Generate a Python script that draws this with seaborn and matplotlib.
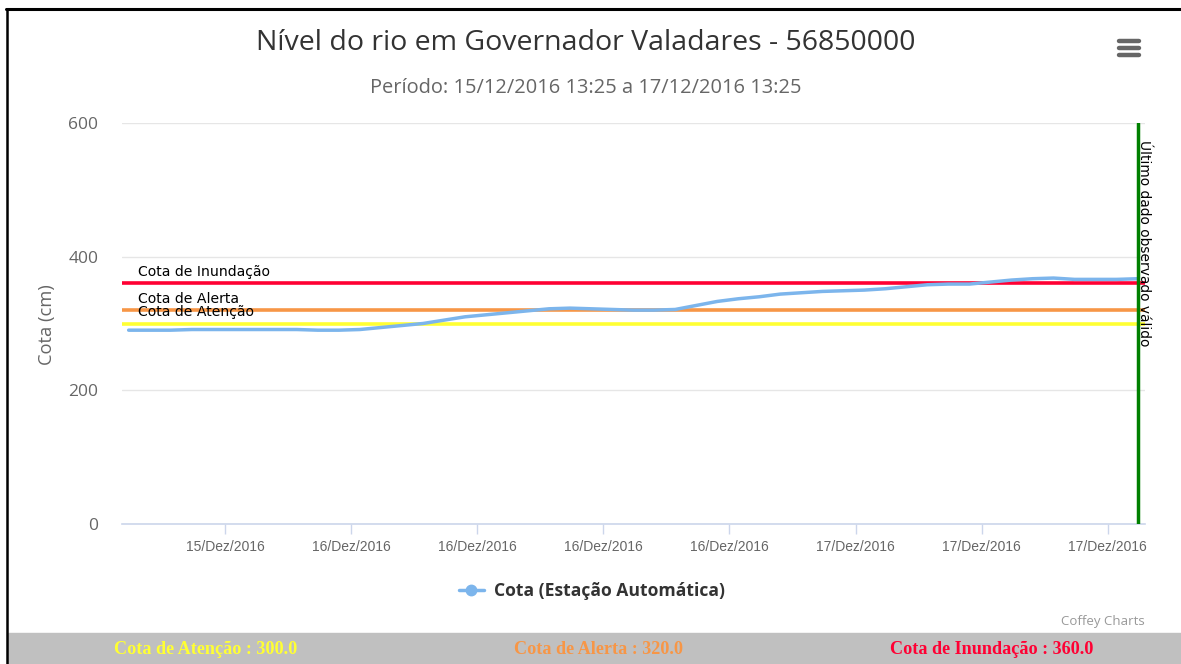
# %%
import matplotlib

matplotlib.use("Agg")
import matplotlib.dates as mdates
import matplotlib.pyplot as plt
import pandas as pd
import seaborn as sns
from matplotlib.lines import Line2D
from matplotlib.patches import Rectangle


# %% hourly river level, starting 15/12/2016 13:25
start = "2016-12-15 13:25"
cota_cm = [
    290, 290, 290, 291, 291, 291, 291, 291, 291, 290, 290, 291,
    294, 297, 300, 305, 310, 313, 316, 319, 322, 323, 322, 321,
    320, 320, 321, 327, 333, 337, 340, 344, 346, 348, 349, 350,
    352, 355, 358, 359, 359, 362, 365, 367, 368, 366, 366, 366,
    367,
]
limiar_nomes = ["Cota de Atenção", "Cota de Alerta", "Cota de Inundação"]
limiar_valores = [300.0, 320.0, 360.0]
limiar_cores = ["#ffff33", "#f79646", "#ff0033"]
y_ticks = [0, 200, 400, 600]
meses = {12: "Dez"}

df = pd.DataFrame(
    {"hora": pd.date_range(start, periods=len(cota_cm), freq="h"), "cota": cota_cm}
)

# %%
W, H = 1181, 664


def fx(x):
    return x / W


def fy(y):
    return 1 - y / H


sns.set_theme(style="white")
plt.rcParams["font.family"] = ["Open Sans", "DejaVu Sans"]

fig = plt.figure(figsize=(W / 100, H / 100), dpi=100)
ax = fig.add_axes([fx(122), fy(524), fx(1145 - 122), (524 - 123) / H])

sns.lineplot(data=df, x="hora", y="cota", ax=ax, color="#7cb5ec", lw=2.5, zorder=4)

# threshold lines + labels
for nome, val, cor in zip(limiar_nomes, limiar_valores, limiar_cores):
    ax.axhline(val, color=cor, lw=2.6, zorder=3)
    ax.annotate(
        nome, xy=(0.0156, val), xycoords=("axes fraction", "data"),
        xytext=(0, 8.3), textcoords="offset points", va="center", ha="left",
        fontsize=10.1, family="DejaVu Sans", color="black", zorder=5,
    )

# last valid observation
ultimo = df["hora"].iloc[-1]
ax.axvline(ultimo, color="green", lw=2.5, zorder=5)
ax.annotate(
    "Último dado observado válido", xy=(ultimo, 600), xytext=(4.5, -12),
    textcoords="offset points", rotation=-90, ha="center", va="top",
    fontsize=9.9, family="DejaVu Sans", color="black",
)

ax.set_ylim(0, 600)
ax.set_yticks(y_ticks)
ax.set_xlim(pd.Timestamp("2016-12-15 13:06"), pd.Timestamp("2016-12-17 13:46"))
ax.xaxis.set_major_locator(mdates.HourLocator(byhour=[0, 6, 12, 18]))
ax.xaxis.set_major_formatter(
    plt.FuncFormatter(
        lambda v, _: (d := mdates.num2date(v)).strftime("%d/") + meses[d.month] + d.strftime("/%Y")
    )
)
ax.grid(axis="y", color="#e6e6e6", lw=1)
ax.grid(axis="x", visible=False)
for side in ["top", "left", "right"]:
    ax.spines[side].set_visible(False)
ax.spines["bottom"].set_color("#ccd6eb")
ax.spines["bottom"].set_linewidth(1.2)
ax.tick_params(axis="x", length=7.5, width=1, color="#ccd6eb", direction="out",
               pad=4, labelsize=10, labelcolor="#666666", bottom=True)
ax.tick_params(axis="y", length=0, pad=17, labelsize=12.5, labelcolor="#666666")
for lbl in ax.get_xticklabels():
    lbl.set_family(["Liberation Sans Narrow", "Liberation Sans"])
ax.set_xlabel("")
ax.set_ylabel("")

fig.text(fx(47), fy(325), "Cota (cm)", rotation=90, ha="center", va="center",
         fontsize=13.2, color="#666666")

# titles
fig.text(fx(586), fy(43), "Nível do rio em Governador Valadares - 56850000",
         ha="center", va="center", fontsize=20.5, color="#333333")
fig.text(fx(586), fy(88), "Período: 15/12/2016 13:25 a 17/12/2016 13:25",
         ha="center", va="center", fontsize=14.4, color="#666666")

# legend
fig.legend(
    handles=[Line2D([0], [0], color="#7cb5ec", lw=2.5, marker="o", ms=7.5)],
    labels=["Cota (Estação Automática)"], loc="center",
    bbox_to_anchor=(fx(592), fy(591)), frameon=False, handlelength=1.4,
    handletextpad=0.6, prop={"weight": "bold", "size": 12.6}, labelcolor="#333333",
)
fig.text(fx(1145), fy(621), "Coffey Charts", ha="right", va="center",
         fontsize=9.5, color="#999999")

# context menu icon
for yy in [41, 48, 55]:
    fig.add_artist(Line2D([fx(1119), fx(1139)], [fy(yy), fy(yy)], color="#666666",
                          lw=3.2, solid_capstyle="round"))

# frame + footer band with thresholds
fig.add_artist(Rectangle((fx(8), 0), 1 - fx(8), 31 / H, transform=fig.transFigure,
                         color="#c0c0c0", zorder=0))
fig.add_artist(Line2D([fx(6), 1], [fy(9), fy(9)], color="black", lw=2.2))
fig.add_artist(Line2D([fx(7), fx(7)], [fy(9), 0], color="black", lw=1.8))
for nome, val, cor, cx in zip(limiar_nomes, limiar_valores, limiar_cores, [206, 598, 992]):
    fig.text(fx(cx), fy(649), f"{nome} : {val:.1f}", ha="center", va="center",
             family="Liberation Serif", weight="bold", fontsize=13.1, color=cor)

fig.savefig("out.png", dpi=100)
